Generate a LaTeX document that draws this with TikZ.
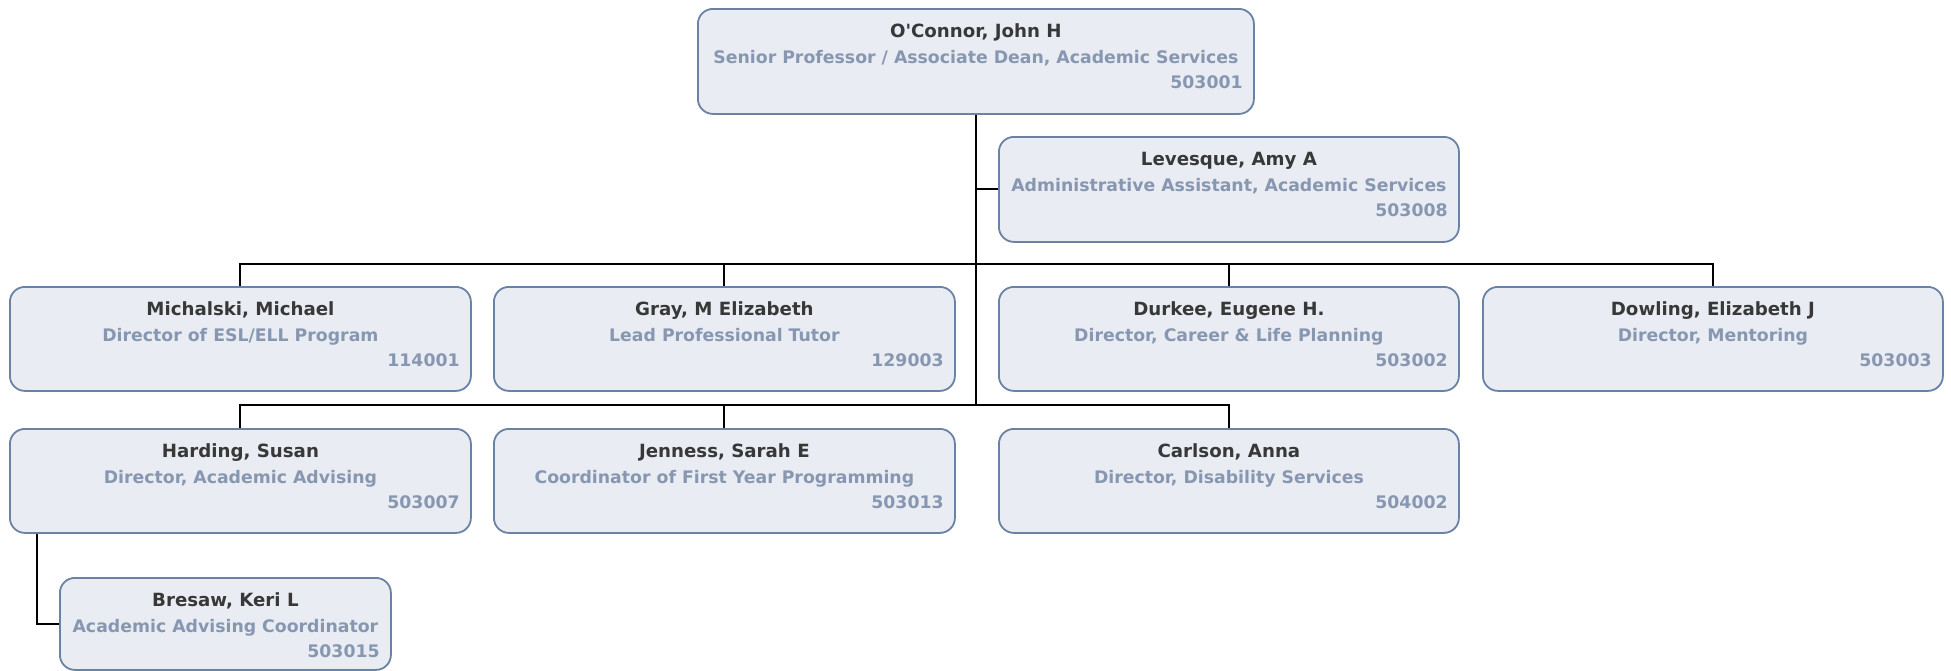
\documentclass[tikz,border=0pt]{standalone}
\usepackage{fontspec}
% family without the TeX quote mapping, so ' stays a straight apostrophe
\newfontfamily\cardfont{DejaVu Sans}
\definecolor{cardfill}{HTML}{E9ECF2}
\definecolor{cardedge}{HTML}{6A82A4}
\definecolor{namecol}{HTML}{383838}
\definecolor{titlecol}{HTML}{8797B1}

% one card of the chart: #1 node name, #2 left, #3 top, #4 width, #5 height,
% #6 person, #7 position, #8 number
\newcommand{\orgbox}[8]{%
  \node[card, minimum width=#4pt, minimum height=#5pt, anchor=north west] (#1) at (#2,#3) {};
  \node[nametext] (#1-name) at ([yshift=-29pt]#1.north) {#6};
  \node[titletext] (#1-title) at ([yshift=-55pt]#1.north) {#7};
  \node[numtext] (#1-id) at ([xshift=-12pt,yshift=-80pt]#1.north east) {#8};
}

\begin{document}
\begin{tikzpicture}[x=1pt,y=-1pt,
  card/.style={draw=cardedge, line width=1.8pt, fill=cardfill, rounded corners=15pt, inner sep=0pt},
  nametext/.style={font=\cardfont\bfseries\fontsize{18.2}{20}\selectfont, text=namecol, inner sep=0pt, anchor=base},
  titletext/.style={font=\cardfont\bfseries\fontsize{17.3}{20}\selectfont, text=titlecol, inner sep=0pt, anchor=base},
  numtext/.style={titletext, anchor=base east},
  link/.style={line width=2pt, draw=black, line join=miter}]

\useasboundingbox (0,0) rectangle (1951,670);

% top of the unit and the assistant
\orgbox{ceo}{697}{8}{556}{105}{O'Connor, John H}{Senior Professor / Associate Dean, Academic Services}{503001}
\orgbox{lev}{998}{136}{460}{105}{Levesque, Amy A}{Administrative Assistant, Academic Services}{503008}

% first row of direct reports
\orgbox{mic}{9}{286}{461}{104}{Michalski, Michael}{Director of ESL/ELL Program}{114001}
\orgbox{gray}{493}{286}{461}{104}{Gray, M Elizabeth}{Lead Professional Tutor}{129003}
\orgbox{dur}{998}{286}{460}{104}{Durkee, Eugene H.}{Director, Career \& Life Planning}{503002}
\orgbox{dow}{1482}{286}{460}{104}{Dowling, Elizabeth J}{Director, Mentoring}{503003}

% second row of direct reports
\orgbox{har}{9}{428}{461}{104}{Harding, Susan}{Director, Academic Advising}{503007}
\orgbox{jen}{493}{428}{461}{104}{Jenness, Sarah E}{Coordinator of First Year Programming}{503013}
\orgbox{car}{998}{428}{460}{104}{Carlson, Anna}{Director, Disability Services}{504002}

% under Harding
\orgbox{bre}{59}{577}{331}{92}{Bresaw, Keri L}{Academic Advising Coordinator}{503015}

% connectors
\coordinate (bus1) at (0,264);
\coordinate (bus2) at (0,405);
\coordinate (hx) at (37,0);

\draw[link] (ceo.south) -- (ceo.south |- bus2);
\draw[link] (ceo.south |- lev.west) -- (lev.west);
\draw[link] (mic.north) -- (mic.north |- bus1) -- (dow.north |- bus1) -- (dow.north);
\draw[link] (gray.north) -- (gray.north |- bus1);
\draw[link] (dur.north) -- (dur.north |- bus1);
\draw[link] (har.north) -- (har.north |- bus2) -- (car.north |- bus2) -- (car.north);
\draw[link] (jen.north) -- (jen.north |- bus2);
\draw[link] (hx |- har.south) -- (hx |- bre.west) -- (bre.west);
\end{tikzpicture}
\end{document}
